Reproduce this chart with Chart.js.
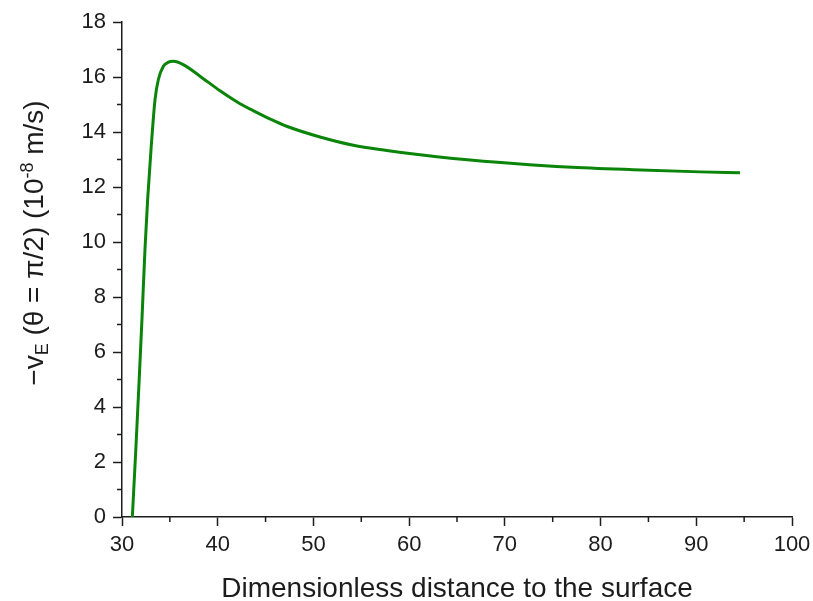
<!DOCTYPE html>
<html>
<head>
<meta charset="utf-8">
<script src="https://cdn.jsdelivr.net/npm/chart.js@4"></script>
<style>
  html, body { margin: 0; padding: 0; background: #fff; }
  #wrap { width: 813px; height: 601px; }
</style>
</head>
<body>
<div id="wrap"><canvas id="velocityChart" width="813" height="601"></canvas></div>
<script>
// data
const distance = [31.08, 31.45, 31.78, 32.1, 32.4, 32.68, 33.03, 33.45, 33.8, 34.32, 34.8, 35.36,
                  36.4, 38.15, 40.24, 42.33, 43.7, 45.5, 47.2, 50.69, 54.17, 57.66, 61.14, 64.6,
                  71.58, 76.46, 83.4, 90.4, 94.57];
const velocity = [0, 2.5, 4.88, 7.3, 9.73, 11.55, 13.36, 15.18, 15.91, 16.39, 16.53, 16.57,
                  16.45, 16.03, 15.5, 15.03, 14.78, 14.47, 14.21, 13.82, 13.52, 13.33, 13.17, 13.04,
                  12.84, 12.73, 12.63, 12.55, 12.52];
const xTicks = [30, 40, 50, 60, 70, 80, 90, 100];
const yTicks = [0, 2, 4, 6, 8, 10, 12, 14, 16, 18];

const FONT = 'Liberation Sans, Arial, sans-serif';
const INK = '#1c1c1c';

// minor ticks halfway between the major ones
const minorTicks = {
    id: 'minorTicks',
    afterDraw(chart) {
        const c = chart.ctx;
        const xs = chart.scales.x, ys = chart.scales.y;
        c.save();
        c.strokeStyle = INK;
        c.lineWidth = 1.5;
        c.beginPath();
        for (let i = 0; i < xTicks.length - 1; i++) {
            const px = xs.getPixelForValue((xTicks[i] + xTicks[i + 1]) / 2);
            c.moveTo(px, ys.bottom);
            c.lineTo(px, ys.bottom + 5);
        }
        for (let i = 0; i < yTicks.length - 1; i++) {
            const py = ys.getPixelForValue((yTicks[i] + yTicks[i + 1]) / 2);
            c.moveTo(xs.left, py);
            c.lineTo(xs.left - 5, py);
        }
        c.stroke();
        c.restore();
    }
};

// axis titles, the y one needs sub- and superscript
const axisTitles = {
    id: 'axisTitles',
    afterDraw(chart) {
        const c = chart.ctx;
        const area = chart.chartArea;
        c.save();
        c.fillStyle = INK;
        c.textBaseline = 'alphabetic';

        c.font = '28px ' + FONT;
        c.textAlign = 'center';
        c.fillText('Dimensionless distance to the surface', (area.left + area.right) / 2, 597);

        const parts = [
            { t: '\u2212v', size: 28, dy: 0 },
            { t: 'E', size: 18, dy: 5 },
            { t: ' (\u03b8 = \u03c0/2) (10', size: 28, dy: 0 },
            { t: '-8', size: 18, dy: -10 },
            { t: ' m/s)', size: 28, dy: 0 }
        ];
        let total = 0;
        parts.forEach(p => {
            c.font = p.size + 'px ' + FONT;
            p.w = c.measureText(p.t).width;
            total += p.w;
        });
        c.translate(43, 243);
        c.rotate(-Math.PI / 2);
        c.textAlign = 'left';
        let x = -total / 2;
        parts.forEach(p => {
            c.font = p.size + 'px ' + FONT;
            c.fillText(p.t, x, p.dy);
            x += p.w;
        });
        c.restore();
    }
};

const ctx = document.getElementById('velocityChart').getContext('2d');

new Chart(ctx, {
    type: 'line',
    data: {
        datasets: [{
            data: distance.map((d, i) => ({ x: d, y: velocity[i] })),
            borderColor: '#0a850a',
            borderWidth: 3,
            pointRadius: 0,
            fill: false,
            cubicInterpolationMode: 'monotone'
        }]
    },
    options: {
        responsive: false,
        animation: false,
        layout: { padding: { left: 0, right: 21, top: 22, bottom: 0 } },
        plugins: { legend: { display: false }, tooltip: { enabled: false } },
        scales: {
            x: {
                type: 'linear',
                min: 30,
                max: 100,
                afterBuildTicks: s => { s.ticks = xTicks.map(v => ({ value: v })); },
                afterFit: s => { s.height = 84; s.paddingLeft = 0; s.paddingRight = 0; },
                grid: { drawOnChartArea: false, tickLength: 9, tickColor: INK, tickWidth: 1.5 },
                border: { color: INK, width: 1.5 },
                ticks: { color: INK, font: { family: FONT, size: 22 }, padding: 6, maxRotation: 0 }
            },
            y: {
                min: 0,
                max: 18,
                afterBuildTicks: s => { s.ticks = yTicks.map(v => ({ value: v })); },
                afterFit: s => { s.width = 122; s.paddingTop = 0; s.paddingBottom = 0; },
                grid: { drawOnChartArea: false, tickLength: 9, tickColor: INK, tickWidth: 1.5 },
                border: { color: INK, width: 1.5 },
                ticks: { color: INK, font: { family: FONT, size: 22 }, padding: 7 }
            }
        }
    },
    plugins: [minorTicks, axisTitles]
});
</script>
</body>
</html>
